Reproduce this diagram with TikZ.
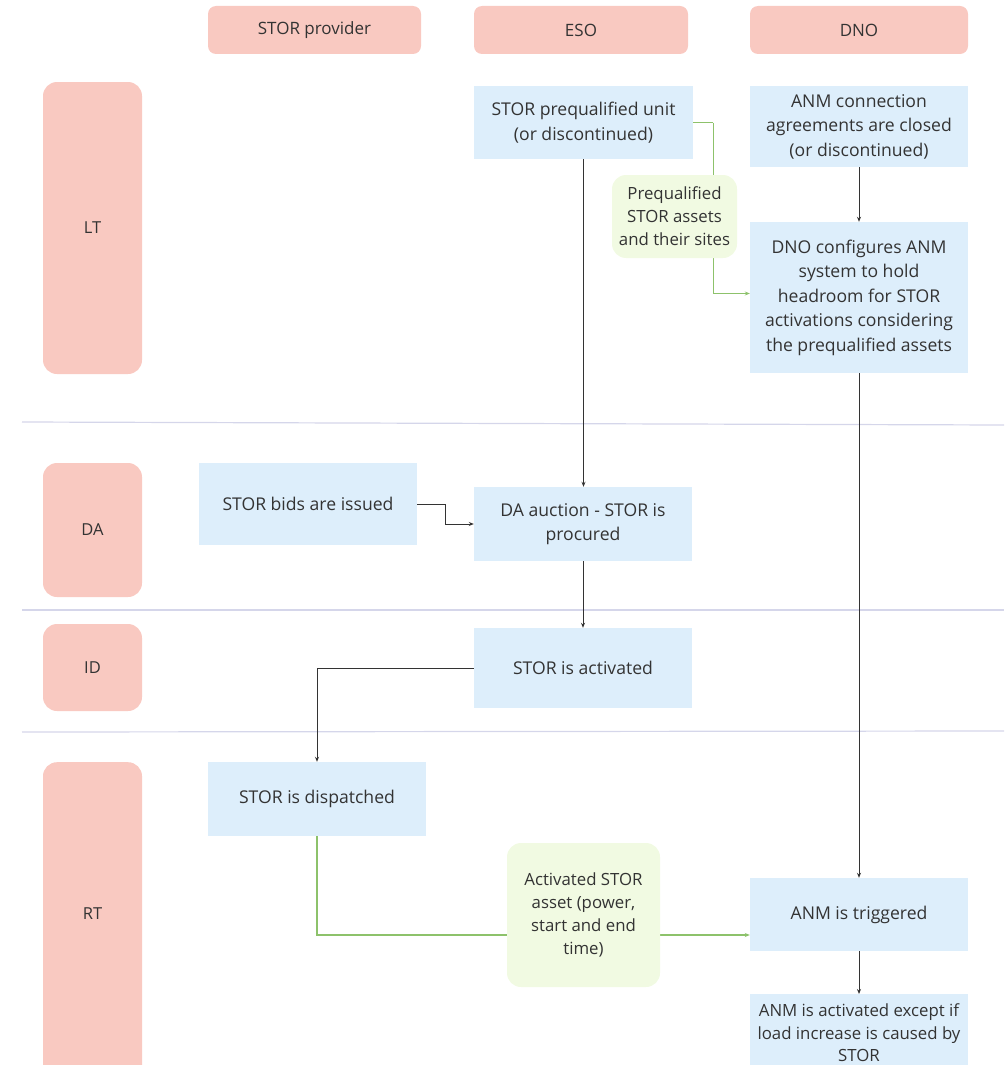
\documentclass[tikz,border=0pt]{standalone}
\usepackage{fontspec}
\setmainfont{Open Sans}
\usetikzlibrary{arrows.meta,calc}
\definecolor{hdr}{HTML}{F9C9C1}
\definecolor{bx}{HTML}{DDEEFB}
\definecolor{gr}{HTML}{F1FAE2}
\definecolor{grl}{HTML}{8DC26B}
\definecolor{sep}{HTML}{D5D6EA}
\definecolor{txt}{HTML}{333333}
\tikzset{
  hbox/.style={fill=hdr, draw=none, rounded corners=8pt, inner sep=0pt, text=txt, font=\fontsize{17}{20}\selectfont},
  lbox/.style={fill=hdr, draw=none, rounded corners=14pt, inner sep=0pt, text=txt, font=\fontsize{16.5}{20}\selectfont},
  bbox/.style={fill=bx, draw=none, inner sep=0pt, text=txt, align=center, font=\fontsize{17.6}{24.5}\selectfont},
  gbox/.style={fill=gr, draw=none, rounded corners=14pt, inner sep=0pt, text=txt, align=center, font=\fontsize{16.8}{23}\selectfont},
  conn/.style={draw=txt, line width=0.9pt, -{Stealth[length=5pt,width=4pt]}},
  gconn/.style={draw=grl, line width=1.1pt, -{Stealth[length=5pt,width=4pt]}},
  sepline/.style={draw=sep, line width=1.2pt}
}
\begin{document}
\begin{tikzpicture}[x=1pt,y=-1pt]
\useasboundingbox (0,0) rectangle (1004,1065);
\begin{scope}
\clip (0,0) rectangle (1004,1065);
% separators
\draw[sepline] (22,422) -- (1004,425);
\draw[sepline] (22,610) -- (1004,610);
\draw[sepline] (22,732) -- (1004,731);

% headers
\node[hbox, minimum width=213, minimum height=48] (h1) at (314.5,30) {STOR provider};
\node[hbox, minimum width=214, minimum height=48] (h2) at (581,30) {ESO};
\node[hbox, minimum width=218, minimum height=48] (h3) at (859,30) {DNO};

% row labels
\node[lbox, minimum width=99, minimum height=292] (lt) at (92.5,228) {LT};
\node[lbox, minimum width=99, minimum height=134] (da) at (92.5,530) {DA};
\node[lbox, minimum width=99, minimum height=87] (id) at (92.5,667.5) {ID};
\node[lbox, minimum width=99, minimum height=330, anchor=north] (rt) at (92.5,762) {};
\node[text=txt, font=\fontsize{16.5}{20}\selectfont] (rtl) at (92.5,914) {RT};

% boxes
\node[bbox, minimum width=219, minimum height=73] (pq) at (583.5,122.5) {STOR prequalified unit\\(or discontinued)};
\node[bbox, minimum width=218, minimum height=81] (anmc) at (859,126.5) {ANM connection\\agreements are closed\\(or discontinued)};
\node[bbox, minimum width=218, minimum height=151] (cfg) at (859,297.5) {DNO configures ANM\\system to hold\\headroom for STOR\\activations considering\\the prequalified assets};
\node[bbox, minimum width=218, minimum height=82] (bids) at (308,504) {STOR bids are issued};
\node[bbox, minimum width=218, minimum height=74] (auc) at (583,524) {DA auction - STOR is\\procured};
\node[bbox, minimum width=218, minimum height=80] (act) at (583,668) {STOR is activated};
\node[bbox, minimum width=218, minimum height=74] (disp) at (317,799) {STOR is dispatched};
\node[bbox, minimum width=218, minimum height=73] (trig) at (859,914.5) {ANM is triggered};
\node[bbox, minimum width=218, minimum height=90, anchor=north] (anma) at (859,994) {};
\node[text=txt, align=center, inner sep=0pt, font=\fontsize{16.8}{22.5}\selectfont] (anmat) at (859,1033) {ANM is activated except if\\load increase is caused by\\STOR};

% connectors
\draw[conn] (pq.south) -- (pq.south |- auc.north);
\draw[conn] (anmc.south) -- (cfg.north);
\draw[conn] (cfg.south) -- (trig.north);
\draw[conn] (trig.south) -- (anma.north);
\draw[conn] (bids.east) -- ++(28,0) |- (auc.west);
\draw[conn] (auc.south) -- (auc.south |- act.north);
\draw[conn] (act.west) -| (disp.north);
\coordinate (cfgin) at ([yshift=4pt]cfg.west);
\draw[gconn, -] (pq.east) -- ++(20,0) coordinate (gk);
\draw[gconn] (gk) |- (cfgin);
\coordinate (trigin) at ([yshift=-20.5pt]trig.west);
\draw[gconn] (disp.south) |- (trigin);

% green labels
\node[gbox, minimum width=125, minimum height=83] (gl1) at (674.5,216.5) {Prequalified\\STOR assets\\and their sites};
\node[gbox, minimum width=153, minimum height=144] (gl2) at (583.5,915) {Activated STOR\\asset (power,\\start and end\\time)};
\end{scope}
\end{tikzpicture}
\end{document}
